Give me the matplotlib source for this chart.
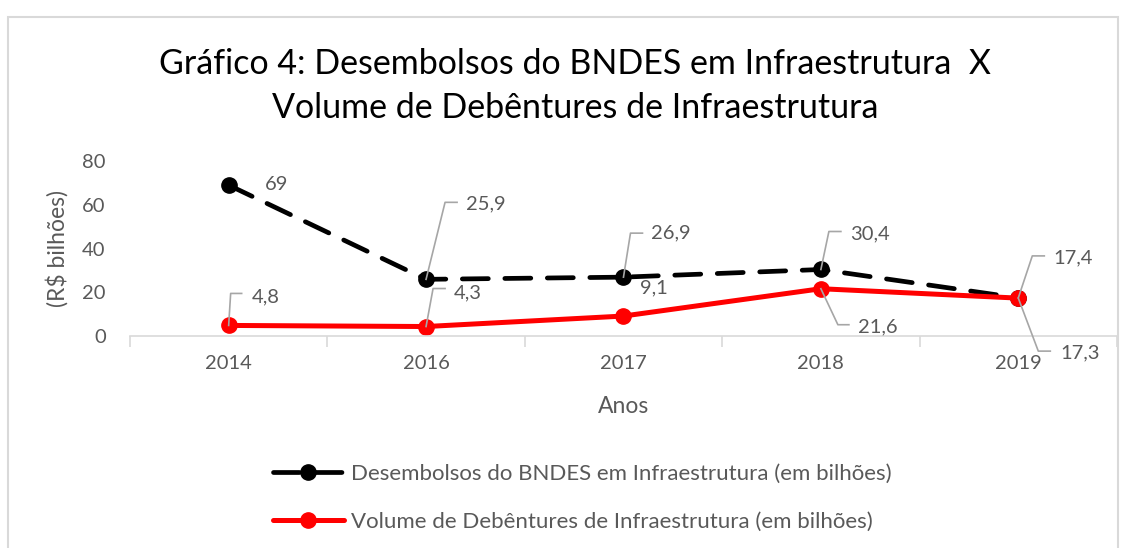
import matplotlib
matplotlib.use("Agg")
import matplotlib.pyplot as plt
from matplotlib.patches import Rectangle
from matplotlib.lines import Line2D
from matplotlib.transforms import IdentityTransform

plt.rcParams['font.family'] = ['Lato', 'DejaVu Sans']

anos = ['2014', '2016', '2017', '2018', '2019']
bndes = [69, 25.9, 26.9, 30.4, 17.4]
debentures = [4.8, 4.3, 9.1, 21.6, 17.3]
rotulos_bndes = ['69', '25,9', '26,9', '30,4', '17,4']
rotulos_deb = ['4,8', '4,3', '9,1', '21,6', '17,3']

cinza = '#595959'

fig = plt.figure(figsize=(11.3, 5.48), dpi=100)
ax = fig.add_axes([0.115, 0.387, 0.8735, 0.319])

x = list(range(len(anos)))
ax.plot(x, bndes, color='black', lw=3.4, dashes=(5.5, 3.5), dash_capstyle='round',
        marker='o', markersize=11, label='Desembolsos do BNDES em Infraestrutura (em bilhões)')
ax.plot(x, debentures, color='#ff0000', lw=3.6, solid_capstyle='round',
        marker='o', markersize=11, label='Volume de Debêntures de Infraestrutura (em bilhões)')

ax.set_xlim(-0.5, 4.5)
ax.set_ylim(0, 80)
ax.set_yticks([0, 20, 40, 60, 80])
ax.set_xticks(x)
ax.set_xticklabels(anos)
ax.set_xticks([i - 0.5 for i in range(len(anos) + 1)], minor=True)
ax.tick_params(axis='x', which='major', length=0, pad=14, labelsize=14.5, labelcolor=cinza)
ax.tick_params(axis='x', which='minor', length=8, color='#d9d9d9', width=1.2)
ax.tick_params(axis='y', length=0, pad=17.5, labelsize=14.5, labelcolor=cinza)
for s in ['top', 'right', 'left']:
    ax.spines[s].set_visible(False)
ax.spines['bottom'].set_color('#d9d9d9')
ax.spines['bottom'].set_linewidth(1.2)

ax.set_xlabel('Anos', fontsize=16.5, color=cinza, labelpad=17)
ax.set_ylabel('(R$ bilhões)', fontsize=16.5, color=cinza, labelpad=10)

fig.suptitle('Gráfico 4: Desembolsos do BNDES em Infraestrutura  X\nVolume de Debêntures de Infraestrutura',
             x=0.509, y=1 - 86 / 548, va='center', fontsize=24.5, linespacing=1.5)

# data labels: offset of text (px) and leader path (px) relative to the point
fig.canvas.draw()
pos_bndes = [((36, 1), None),
             ((40, 75), [(0, 0), (19, 77), (31, 77)]),
             ((28, 44), [(0, 0), (7, 44), (19, 44)]),
             ((29, 36), [(0, 0), (8, 38), (20, 38)]),
             ((35, 40), [(0, 0), (14, 42), (26, 42)])]
pos_deb = [((23, 29), [(0, 0), (2, 32), (13, 32)]),
           ((28, 34), [(0, 0), (7, 38), (19, 38)]),
           ((17, 28), None),
           ((37, -38), [(0, 0), (17, -36), (28, -36)]),
           ((42, -55), [(0, 0), (20, -53), (32, -53)])]


def rotular(valores, textos, posicoes):
    for i, (v, t, (off, leader)) in enumerate(zip(valores, textos, posicoes)):
        px, py = ax.transData.transform((i, v))
        if leader is not None:
            fig.add_artist(Line2D([px + a for a, b in leader], [py + b for a, b in leader],
                                  transform=IdentityTransform(), color='#a6a6a6', lw=1.2))
        fig.text(px + off[0], py + off[1], t, transform=IdentityTransform(),
                 fontsize=14.5, color=cinza, ha='left', va='center')


rotular(bndes, rotulos_bndes, pos_bndes)
rotular(debentures, rotulos_deb, pos_deb)

fig.legend(loc='upper center', bbox_to_anchor=(0.515, 0.19), ncol=1, frameon=False,
           fontsize=16, labelcolor=cinza, handlelength=3.2, handletextpad=0.3,
           labelspacing=1.25)

fig.add_artist(Rectangle((8 / 1130, -0.05), 1110 / 1130, 1.05 - 17 / 548, transform=fig.transFigure,
                         fill=False, edgecolor='#d9d9d9', lw=1.5))

fig.savefig('out.png', dpi=100)
